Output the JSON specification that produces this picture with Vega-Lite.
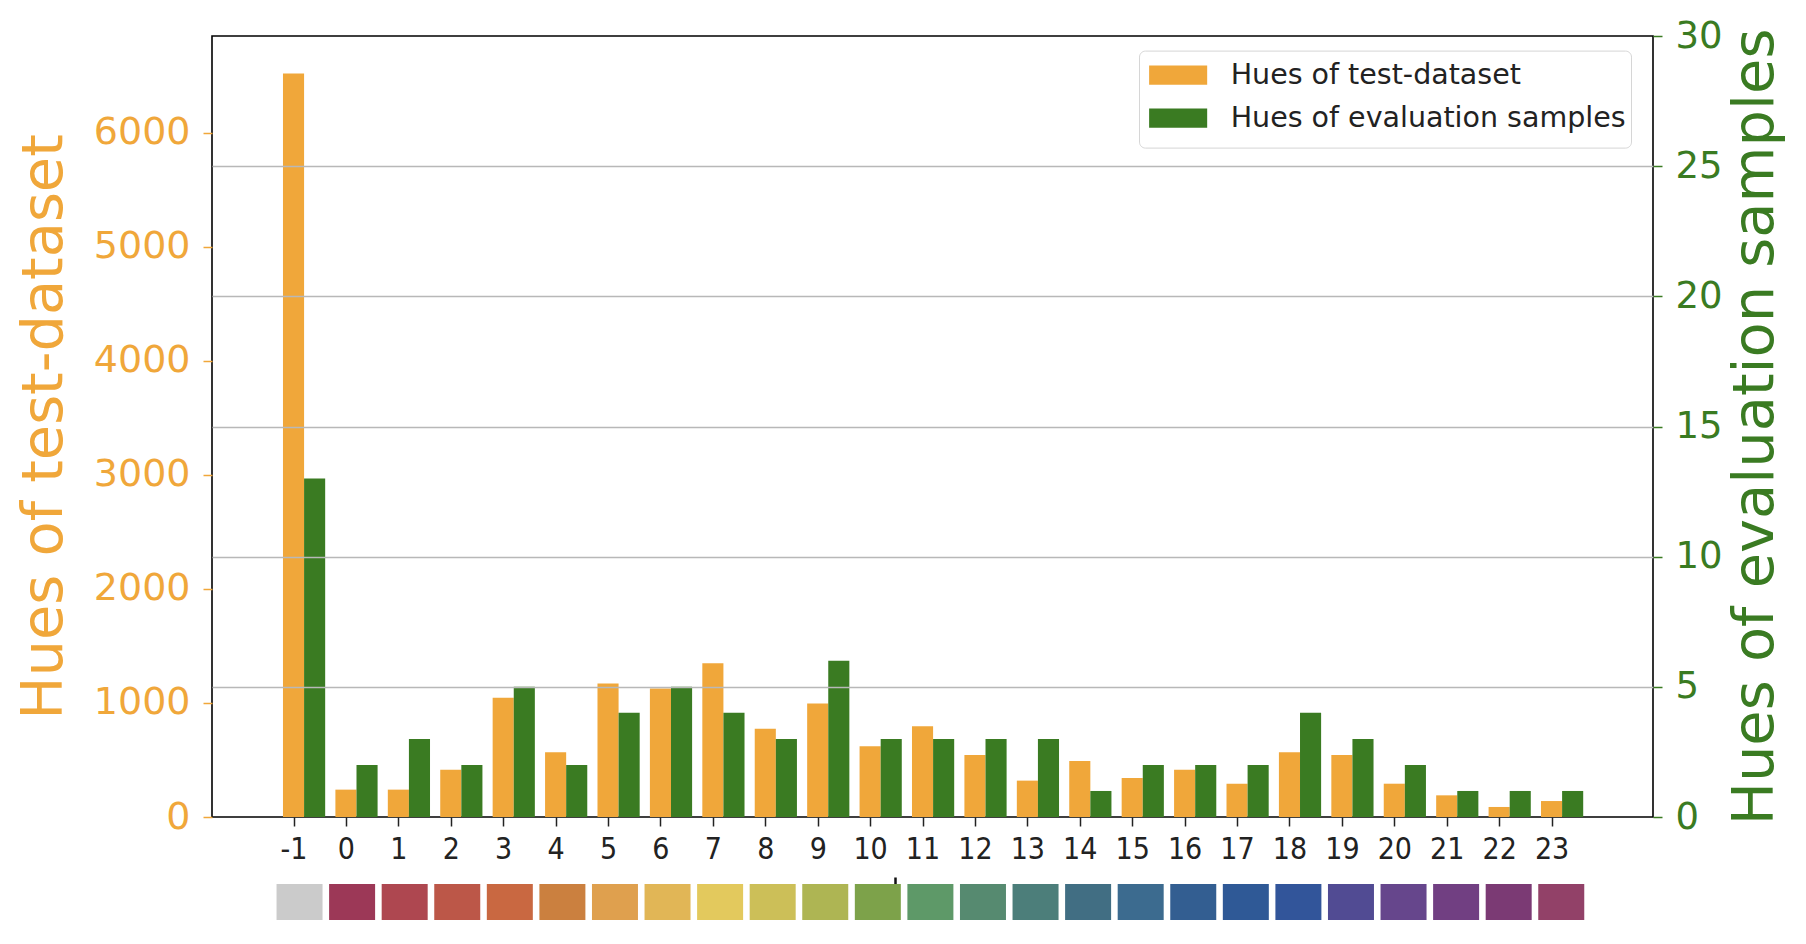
{
  "$schema": "https://vega.github.io/schema/vega-lite/v6.json",
  "autosize": {"type": "pad"},
  "padding": {"left": 14, "top": 16, "right": 0, "bottom": 0},
  "background": "white",
  "bounds": "flush",
  "spacing": 67,
  "config": {"font": "DejaVu Sans"},
  "resolve": {"scale": {"color": "independent", "x": "independent"}},
  "datasets": {
    "hues": [
      {"hue": -1, "test": 6520, "eval": 13},
      {"hue": 0, "test": 240, "eval": 2},
      {"hue": 1, "test": 240, "eval": 3},
      {"hue": 2, "test": 415, "eval": 2},
      {"hue": 3, "test": 1045, "eval": 5},
      {"hue": 4, "test": 567, "eval": 2},
      {"hue": 5, "test": 1170, "eval": 4},
      {"hue": 6, "test": 1128, "eval": 5},
      {"hue": 7, "test": 1349, "eval": 4},
      {"hue": 8, "test": 773, "eval": 3},
      {"hue": 9, "test": 995, "eval": 6},
      {"hue": 10, "test": 620, "eval": 3},
      {"hue": 11, "test": 796, "eval": 3},
      {"hue": 12, "test": 544, "eval": 3},
      {"hue": 13, "test": 319, "eval": 3},
      {"hue": 14, "test": 492, "eval": 1},
      {"hue": 15, "test": 342, "eval": 2},
      {"hue": 16, "test": 415, "eval": 2},
      {"hue": 17, "test": 292, "eval": 2},
      {"hue": 18, "test": 567, "eval": 4},
      {"hue": 19, "test": 544, "eval": 3},
      {"hue": 20, "test": 292, "eval": 2},
      {"hue": 21, "test": 190, "eval": 1},
      {"hue": 22, "test": 88, "eval": 1},
      {"hue": 23, "test": 140, "eval": 1}
    ]
  },
  "vconcat": [
    {
      "width": 1441,
      "height": 781,
      "data": {"name": "hues"},
      "view": {"stroke": "#000000", "strokeWidth": 1.6},
      "layer": [
        {
          "mark": {"type": "bar", "orient": "vertical", "width": 21.1},
          "encoding": {
            "x": {
              "field": "hue", "type": "quantitative",
              "scale": {"domain": [-2.46, 24.84], "nice": false, "zero": false},
              "axis": {
                "values": [-1,0,1,2,3,4,5,6,7,8,9,10,11,12,13,14,15,16,17,18,19,20,21,22,23],
                "labelExpr": "'' + datum.value",
                "grid": false, "domain": false, "title": null,
                "tickColor": "#222222", "tickSize": 9, "tickWidth": 1.5,
                "labelFont": "DejaVu Sans Condensed", "labelFontSize": 30, "labelColor": "#222222",
                "labelPadding": 8, "labelFlush": false, "labelOverlap": false
              }
            },
            "y": {
              "field": "test", "type": "quantitative",
              "scale": {"domain": [0, 6850], "nice": false},
              "axis": {
                "orient": "left",
                "values": [0, 1000, 2000, 3000, 4000, 5000, 6000],
                "format": "d",
                "grid": false, "domain": false,
                "tickColor": "#F0A73A", "tickSize": 9, "tickWidth": 1.5,
                "labelColor": "#F0A73A", "labelFontSize": 38, "labelPadding": 13,
                "title": "Hues of test-dataset",
                "titleColor": "#F0A73A", "titleFontSize": 57.5, "titleFontWeight": "normal",
                "titleAngle": 270, "titleBaseline": "middle", "titleX": -168, "titleAnchor": "middle"
              }
            },
            "color": {
              "datum": "Hues of test-dataset", "type": "nominal",
              "scale": {"domain": ["Hues of test-dataset", "Hues of evaluation samples"], "range": ["#F0A73A", "#3A7B22"]},
              "legend": {
                "orient": "none", "legendX": 927, "legendY": 14.6,
                "title": " ", "titleOrient": "bottom", "titleFontSize": 7, "titlePadding": 2.5,
                "symbolType": "M-1.5,-0.5H1.5V0.5H-1.5Z", "symbolSize": 1498,
                "symbolStrokeWidth": 0, "symbolOpacity": 1, "symbolOffset": 14.65,
                "labelOffset": 33, "labelFontSize": 28.5, "labelFont": "DejaVu Sans", "labelColor": "#222222", "labelLimit": 0,
                "padding": 5, "rowPadding": 9,
                "fillColor": "#ffffff", "strokeColor": "#d6d6d6", "cornerRadius": 6
              }
            }
          }
        },
        {
          "mark": {"type": "bar", "orient": "vertical", "width": 21.1, "xOffset": 21.1},
          "encoding": {
            "x": {"field": "hue", "type": "quantitative"},
            "y": {
              "field": "eval", "type": "quantitative",
              "scale": {"domain": [0, 30], "nice": false},
              "axis": {
                "orient": "right",
                "values": [0, 5, 10, 15, 20, 25, 30],
                "format": "d",
                "zindex": 1,
                "grid": true, "gridColor": "#b8b8b8", "gridWidth": 1.6,
                "gridOpacity": {"condition": {"test": "datum.value == 0 || datum.value == 30", "value": 0}, "value": 1},
                "domain": false,
                "tickColor": "#3A7B22", "tickSize": 9, "tickWidth": 1.5,
                "labelColor": "#3A7B22", "labelFontSize": 37, "labelPadding": 13,
                "title": "Hues of evaluation samples",
                "titleColor": "#3A7B22", "titleFontSize": 57.5, "titleFontWeight": "normal",
                "titleAngle": 270, "titleBaseline": "middle", "titleX": 102, "titleAnchor": "middle"
              }
            },
            "color": {"datum": "Hues of evaluation samples", "type": "nominal"}
          }
        }
      ],
      "resolve": {"scale": {"y": "independent"}}
    },
    {
      "width": 1441,
      "height": 36,
      "data": {"name": "hues"},
      "view": {"stroke": null},
      "mark": {"type": "bar", "orient": "vertical", "width": 46},
      "encoding": {
        "x": {
          "field": "hue", "type": "quantitative",
          "scale": {"domain": [-2.57, 24.65], "nice": false, "zero": false},
          "axis": {
            "orient": "top", "values": [10.32], "labels": false, "domain": false, "grid": false,
            "ticks": true, "tickSize": 7, "tickWidth": 2.5, "tickColor": "#111111", "title": null
          }
        },
        "y": {"datum": 1, "type": "quantitative", "scale": {"domain": [0, 1], "nice": false}, "axis": null},
        "color": {
          "field": "hue", "type": "ordinal",
          "scale": {
            "domain": [-1,0,1,2,3,4,5,6,7,8,9,10,11,12,13,14,15,16,17,18,19,20,21,22,23],
            "range": ["#CBCBCB","#9C3857","#AE4750","#BC5748","#C96841","#CB803F","#DFA04E","#E1B656","#E3C95D","#CCBF58","#AEB553","#7DA24A","#5E9968","#568A70","#4C7E7A","#416E83","#3C6B8F","#335E91","#2F5996","#32559A","#514B93","#66468C","#713F82","#7B3A74","#924168"]
          },
          "legend": null
        }
      }
    }
  ]
}
